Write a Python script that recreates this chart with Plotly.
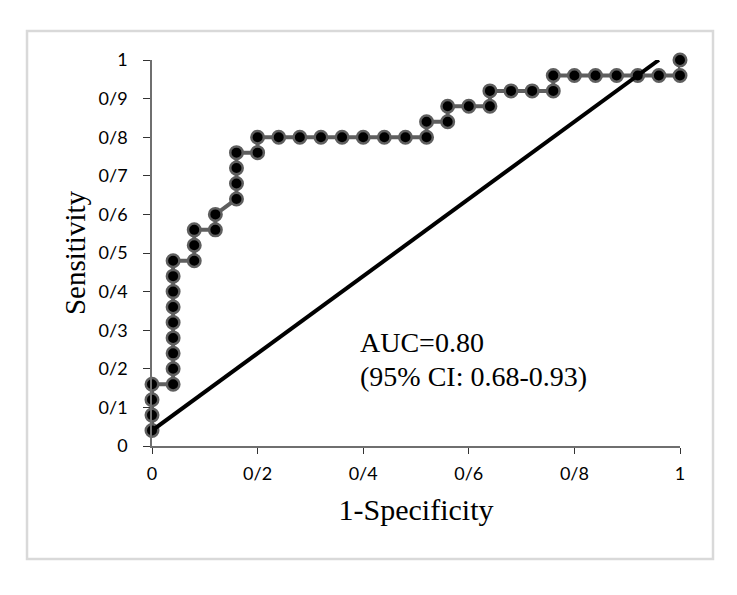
import plotly.graph_objects as go

# ROC points (1-Specificity, Sensitivity)
fpr = [0, 0, 0, 0,
       0.04, 0.04, 0.04, 0.04, 0.04, 0.04, 0.04, 0.04, 0.04,
       0.08, 0.08, 0.08,
       0.12, 0.12,
       0.16, 0.16, 0.16, 0.16,
       0.20, 0.20,
       0.24, 0.28, 0.32, 0.36, 0.40, 0.44, 0.48, 0.52,
       0.52, 0.56, 0.56, 0.60, 0.64, 0.64,
       0.68, 0.72, 0.76, 0.76,
       0.80, 0.84, 0.88, 0.92, 0.96, 1.00, 1.00]
tpr = [0.04, 0.08, 0.12, 0.16,
       0.16, 0.20, 0.24, 0.28, 0.32, 0.36, 0.40, 0.44, 0.48,
       0.48, 0.52, 0.56,
       0.56, 0.60,
       0.64, 0.68, 0.72, 0.76,
       0.76, 0.80,
       0.80, 0.80, 0.80, 0.80, 0.80, 0.80, 0.80, 0.80,
       0.84, 0.84, 0.88, 0.88, 0.88, 0.92,
       0.92, 0.92, 0.92, 0.96,
       0.96, 0.96, 0.96, 0.96, 0.96, 0.96, 1.00]

# Reference line
ref_x = [0, 0.96]
ref_y = [0.04, 1.0]

tick_vals_y = [0, 0.1, 0.2, 0.3, 0.4, 0.5, 0.6, 0.7, 0.8, 0.9, 1]
tick_text_y = ["0", "0/1", "0/2", "0/3", "0/4", "0/5", "0/6", "0/7", "0/8", "0/9", "1"]
tick_vals_x = [0, 0.2, 0.4, 0.6, 0.8, 1]
tick_text_x = ["0", "0/2", "0/4", "0/6", "0/8", "1"]

auc_text = "AUC=0.80"
ci_text = "(95% CI: 0.68-0.93)"

fig = go.Figure()
fig.add_trace(go.Scatter(
    x=fpr, y=tpr, mode="lines+markers",
    line=dict(color="#5f5f5f", width=4),
    marker=dict(size=12.5, color="black", line=dict(color="#5f5f5f", width=2.5)),
    cliponaxis=False, showlegend=False, hoverinfo="skip"))
fig.add_trace(go.Scatter(
    x=ref_x, y=ref_y, mode="lines",
    line=dict(color="black", width=4),
    cliponaxis=False, showlegend=False, hoverinfo="skip"))

serif = "Liberation Serif, Times New Roman, serif"
sans = "Lato, Noto Sans, sans-serif"

fig.update_layout(
    width=737, height=595,
    margin=dict(l=144, r=65, t=52, b=157),
    paper_bgcolor="white", plot_bgcolor="white",
    xaxis=dict(range=[0, 1], tickvals=tick_vals_x, ticktext=tick_text_x,
               showgrid=False, zeroline=False, showline=True,
               linecolor="#6f6f6f", linewidth=1.5,
               ticks="outside", ticklen=6, tickcolor="#333333", tickwidth=1,
               ticklabelstandoff=5,
               tickfont=dict(family=sans, size=18, color="black"),
               title=dict(text="1-Specificity", font=dict(family=serif, size=30, color="black"),
                          standoff=16)),
    yaxis=dict(range=[0, 1], tickvals=tick_vals_y, ticktext=tick_text_y,
               showgrid=False, zeroline=False, showline=True,
               linecolor="#6f6f6f", linewidth=1.5,
               ticks="outside", ticklen=7, tickcolor="#333333", tickwidth=1,
               ticklabelstandoff=12,
               tickfont=dict(family=sans, size=18, color="black"),
               title=dict(text="Sensitivity", font=dict(family=serif, size=29, color="black"),
                          standoff=4)),
    shapes=[dict(type="rect", xref="paper", yref="paper",
                 x0=-0.2367, x1=1.0625, y0=-0.2927, y1=1.0751,
                 line=dict(color="#d9d9d9", width=2.5), layer="below")],
    annotations=[
        dict(x=0.39, y=0.268, xref="x", yref="y", text=auc_text, showarrow=False,
             xanchor="left", yanchor="middle", font=dict(family=serif, size=28, color="black")),
        dict(x=0.39, y=0.180, xref="x", yref="y", text=ci_text, showarrow=False,
             xanchor="left", yanchor="middle", font=dict(family=serif, size=28, color="black")),
    ],
)

fig.write_html("out.html")
